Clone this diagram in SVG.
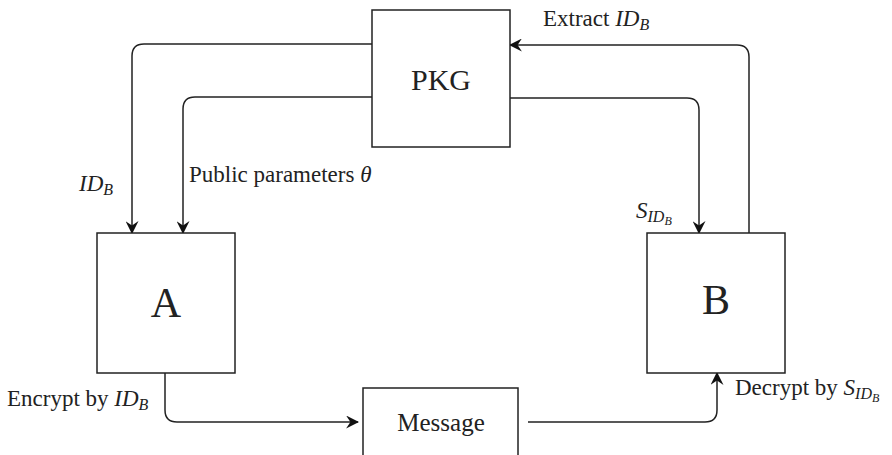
<svg xmlns="http://www.w3.org/2000/svg" width="892" height="455" viewBox="0 0 892 455">
<defs>
<marker id="ah" viewBox="0 0 12 12" refX="11" refY="6" markerWidth="13" markerHeight="13" markerUnits="userSpaceOnUse" orient="auto">
<path d="M0,0 L12,6 L0,12 L4,6 Z" fill="#111"/>
</marker>
</defs>
<style>
.box{fill:#fff;stroke:#222;stroke-width:1.5}
.ln{fill:none;stroke:#222;stroke-width:1.5;marker-end:url(#ah)}
text{font-family:"Liberation Serif","Times New Roman",serif;fill:#222}
.lab{font-size:23px}
.it{font-style:italic}
.sub{font-size:16px;font-style:italic}
.sub2{font-size:12px;font-style:italic}
</style>
<rect width="892" height="455" fill="#fff"/>
<g id="connectors">
<path class="ln" d="M372,44 H144 Q132,44 132,56 V233"/>
<path class="ln" d="M372,97 H195 Q183,97 183,109 V233"/>
<path class="ln" d="M510,98 H687 Q699,98 699,110 V233"/>
<path class="ln" d="M749,233 V57 Q749,45 737,45 H510"/>
<path class="ln" d="M165,373 V410 Q165,422 177,422 H358"/>
<path class="ln" d="M528,422 H705 Q717,422 717,410 V373"/>
</g>
<g id="PKG">
<rect class="box" x="372" y="10" width="138" height="137"/>
<text x="441" y="90" font-size="30" text-anchor="middle">PKG</text>
</g>
<g id="A">
<rect class="box" x="97" y="233" width="138" height="140"/>
<text x="166" y="317" font-size="42" text-anchor="middle">A</text>
</g>
<g id="B">
<rect class="box" x="647" y="233" width="138" height="140"/>
<text x="716" y="314" font-size="42" text-anchor="middle">B</text>
</g>
<g id="Message">
<rect class="box" x="363" y="388" width="155" height="80"/>
<text x="441" y="431" font-size="25" text-anchor="middle">Message</text>
</g>
<g id="labels">
<text class="lab" x="543" y="26">Extract <tspan class="it">ID</tspan><tspan class="sub" dy="4">B</tspan></text>
<text class="lab" x="79" y="191"><tspan class="it">ID</tspan><tspan class="sub" dy="4">B</tspan></text>
<text class="lab" x="189" y="182">Public parameters <tspan class="it">θ</tspan></text>
<text class="lab" x="636" y="218"><tspan class="it">S</tspan><tspan class="sub" dy="4">ID</tspan><tspan class="sub2" dy="3">B</tspan></text>
<text class="lab" x="7" y="406">Encrypt by <tspan class="it">ID</tspan><tspan class="sub" dy="4">B</tspan></text>
<text class="lab" x="735" y="395">Decrypt by <tspan class="it">S</tspan><tspan class="sub" dy="4">ID</tspan><tspan class="sub2" dy="3">B</tspan></text>
</g>
</svg>
